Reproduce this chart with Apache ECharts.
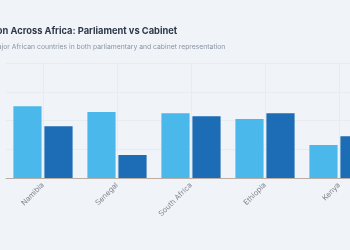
<!DOCTYPE html>
<html>
<head>
<meta charset="utf-8">
<script src="https://cdn.jsdelivr.net/npm/echarts@6/dist/echarts.min.js"></script>
<style>
  html, body { margin: 0; padding: 0; background: #f0f4f8; }
  #chart { width: 350px; height: 250px; }
</style>
</head>
<body>
<div id="chart"></div>
<script>
var countries = ['Namibia', 'Senegal', 'South Africa', 'Ethiopia', 'Kenya'];
var parliament = [50, 46, 45, 41, 23];
var cabinet = [36, 16, 43, 45, 29];
var yTicks = [0, 20, 40, 60, 80];

var option = {
    backgroundColor: '#f0f4f8',
    title: [
        {
            text: "Women's Representation Across Africa: Parliament vs Cabinet",
            left: -111,
            top: 22,
            textStyle: {
                fontFamily: 'Inter',
                fontSize: 9.3,
                fontWeight: 'bold',
                color: '#2d3748'
            }
        },
        {
            text: 'Comparing women\u2019s share in major African countries in both parliamentary and cabinet representation',
            left: -108,
            top: 38,
            textStyle: {
                fontFamily: 'Inter',
                fontSize: 6.8,
                fontWeight: 'normal',
                color: '#8a94a3'
            }
        }
    ],
    grid: {
        left: 6,
        right: -26,
        top: 63,
        bottom: 72,
        outerBoundsMode: 'none'
    },
    xAxis: {
        type: 'category',
        data: countries,
        axisLine: { lineStyle: { color: '#b9aea6' } },
        axisTick: { alignWithLabel: true, length: 4, lineStyle: { color: '#b9aea6' } },
        splitLine: { show: true, alignWithLabel: true, lineStyle: { color: '#e8ecf1' } },
        axisLabel: {
            rotate: 45,
            fontFamily: 'Inter',
            fontSize: 7.5,
            color: '#80858c',
            margin: 6
        }
    },
    yAxis: {
        type: 'value',
        min: yTicks[0],
        max: yTicks[yTicks.length - 1],
        interval: 20,
        axisLabel: { show: false },
        axisLine: { show: false },
        axisTick: { show: false },
        splitLine: { lineStyle: { color: '#e8ecf1' } }
    },
    series: [
        {
            name: 'Parliament',
            type: 'bar',
            data: parliament,
            barGap: '10%',
            barCategoryGap: '20%',
            itemStyle: { color: '#4ab8ea' }
        },
        {
            name: 'Cabinet',
            type: 'bar',
            data: cabinet,
            itemStyle: { color: '#1c6db5' }
        }
    ]
};

var chart = echarts.init(document.getElementById('chart'));
chart.setOption(option);
</script>
</body>
</html>
